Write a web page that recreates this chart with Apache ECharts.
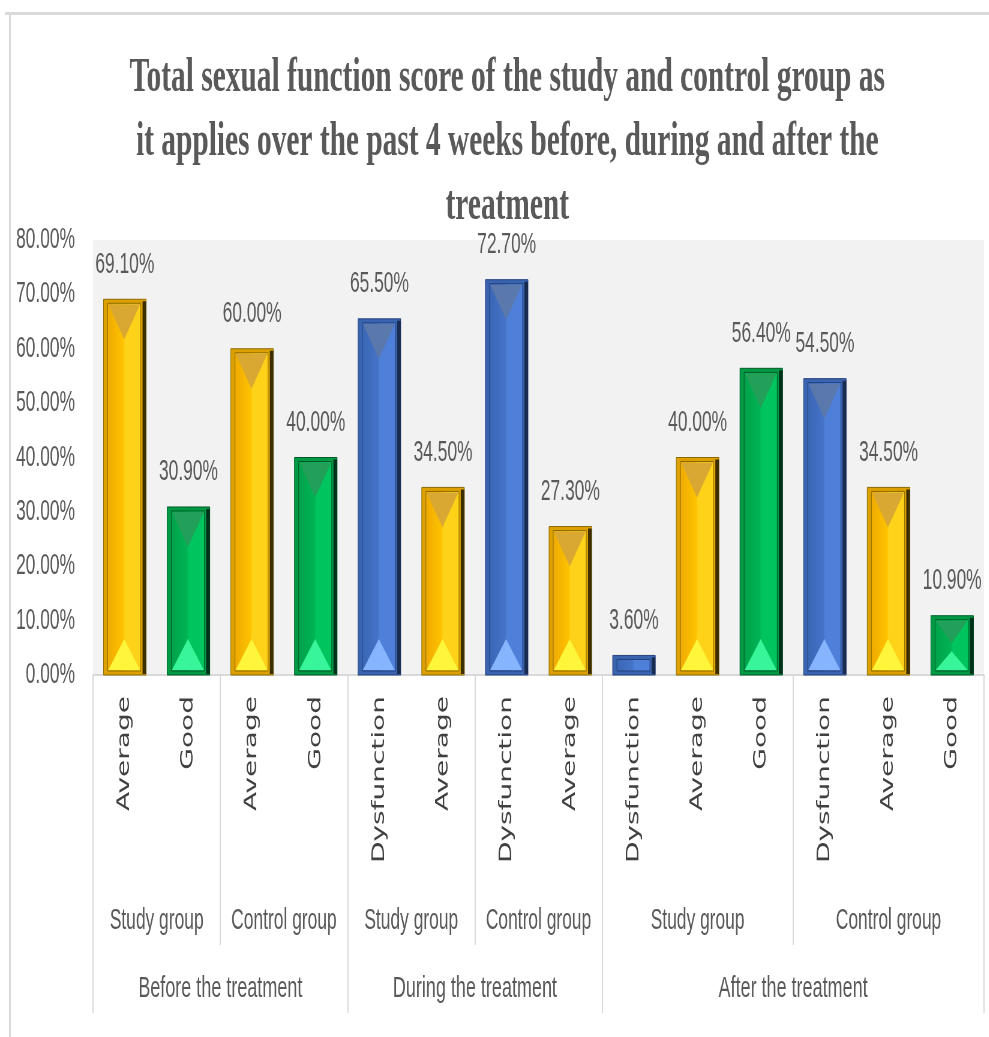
<!doctype html>
<html lang="en">
<head>
<meta charset="UTF-8">
<title>Total sexual function score</title>
<style>
  html, body { margin: 0; padding: 0; background: #fff; overflow: hidden; }
  /* chart is laid out wide and squeezed horizontally, like the reference picture */
  #chart { width: 1648px; height: 1037px; transform: scaleX(0.6); transform-origin: 0 0; }
</style>
</head>
<body>
<div id="chart"></div>
<script src="https://cdn.jsdelivr.net/npm/echarts@6/dist/echarts.min.js"></script>
<script>
// ---- data ----
var categories = ['Average', 'Good', 'Average', 'Good', 'Dysfunction', 'Average', 'Dysfunction', 'Average',
	'Dysfunction', 'Average', 'Good', 'Dysfunction', 'Average', 'Good'];
var values = [69.1, 30.9, 60.0, 40.0, 65.5, 34.5, 72.7, 27.3, 3.6, 40.0, 56.4, 54.5, 34.5, 10.9];
var subGroups = ['Study group', 'Control group', 'Study group', 'Control group', 'Study group', 'Control group'];
var subGroupSizes = [2, 2, 2, 2, 3, 3];
var phases = ['Before the treatment', 'During the treatment', 'After the treatment'];
var phaseSizes = [2, 2, 2]; // sub groups in each phase
var yTicks = [0, 10, 20, 30, 40, 50, 60, 70, 80];

var SANS = '"Liberation Sans Narrow", "Liberation Sans", sans-serif';

// group edges / centres in category units
var subEdges = [0];
subGroupSizes.forEach(function (s) { subEdges.push(subEdges[subEdges.length - 1] + s); });
var subCenters = subGroupSizes.map(function (s, i) { return subEdges[i] + s / 2; });
var phaseEdges = [0], k = 0;
phaseSizes.forEach(function (n) { k += n; phaseEdges.push(subEdges[k]); });
var phaseCenters = phaseSizes.map(function (n, i) { return (phaseEdges[i] + phaseEdges[i + 1]) / 2; });
var innerEdges = subEdges.filter(function (e) { return phaseEdges.indexOf(e) < 0; });
var nCat = categories.length;

// bevel colours per rating
var palettes = {
	Average: { frame: '#DCA000', outline: '#8C6A00', shadow: '#3B2E00', inA: '#EFAA00', inB: '#FFC300', inC: '#FFD21A', top: '#D8A832', bottom: '#FFF53A' },
	Good: { frame: '#009A45', outline: '#005A28', shadow: '#00301A', inA: '#00A24A', inB: '#00B455', inC: '#00C45E', top: '#22A05A', bottom: '#38F59A' },
	Dysfunction: { frame: '#3A64B0', outline: '#23407A', shadow: '#1A2B50', inA: '#3B66B5', inB: '#4573C8', inC: '#4E80DA', top: '#5A78AC', bottom: '#86B4FF' }
};

function renderBar(params, api) {
	var i = api.value(0), v = api.value(1);
	var top = api.coord([i, v]);
	var base = api.coord([i, 0]);
	var bw = api.size([1, 0])[0] * 0.67;
	var xc = top[0], x0 = xc - bw / 2, x1 = xc + bw / 2, y0 = top[1], y1 = base[1];
	var h = y1 - y0;
	var p = palettes[categories[i]];
	var inX = 7, inY = 4;
	var ix0 = x0 + inX, ix1 = x1 - inX - 2, iy0 = y0 + inY, iy1 = y1 - inY;
	var kids = [
		{ type: 'rect', shape: { x: x0, y: y0, width: bw, height: h }, style: { fill: p.frame, stroke: p.outline, lineWidth: 1 } },
		{ type: 'rect', shape: { x: x1 - 6, y: y0 + 2, width: 6, height: Math.max(h - 3, 0) }, style: { fill: p.shadow } }
	];
	if (h > 2 * inY + 2) {
		kids.push({
			type: 'rect', shape: { x: ix0, y: iy0, width: ix1 - ix0, height: iy1 - iy0 },
			style: {
				fill: new echarts.graphic.LinearGradient(0, 0, 1, 0, [
					{ offset: 0, color: p.inA }, { offset: 0.48, color: p.inB },
					{ offset: 0.52, color: p.inC }, { offset: 1, color: p.inC }
				]),
				stroke: p.outline, lineWidth: 1
			}
		});
		var tri = Math.min(36, (iy1 - iy0) / 2 - 2);
		if (tri > 8) {
			kids.push({ type: 'polygon', shape: { points: [[ix0 + 1, iy0 + 1], [ix1 - 1, iy0 + 1], [(ix0 + ix1) / 2, iy0 + tri]] }, style: { fill: p.top } });
			kids.push({ type: 'polygon', shape: { points: [[ix0 + 1, iy1 - 1], [ix1 - 1, iy1 - 1], [(ix0 + ix1) / 2, iy1 - tri + 4]] }, style: { fill: p.bottom } });
		}
	}
	kids.push({
		type: 'text', x: xc, y: y0 - 20,
		style: { text: v.toFixed(2) + '%', fill: '#595959', fontFamily: SANS, fontSize: 29, align: 'center', verticalAlign: 'bottom' }
	});
	return { type: 'group', children: kids };
}

var chart = echarts.init(document.getElementById('chart'));

var option = {
	backgroundColor: '#fff',
	animation: false,
	title: {
		text: 'Total sexual function score of the study and control group as\nit applies over the past 4 weeks before, during and after the\ntreatment',
		left: '51%',
		textAlign: 'center',
		top: 41,
		textStyle: { fontFamily: 'Liberation Serif', fontWeight: 'bold', fontSize: 49, lineHeight: 64, color: '#595959' }
	},
	graphic: [
		{ type: 'rect', shape: { x: 8, y: 12, width: 1648, height: 3 }, style: { fill: '#d9d9d9' } },
		{ type: 'rect', shape: { x: 15, y: 12, width: 3, height: 1030 }, style: { fill: '#d9d9d9' } }
	],
	grid: { left: 155, right: 8, top: 240, bottom: 362, show: true, backgroundColor: '#f2f2f2', borderWidth: 0, outerBoundsMode: 'none' },
	xAxis: [
		{
			type: 'category', data: categories, position: 'bottom',
			axisLine: { show: true, lineStyle: { color: '#d9d9d9', width: 2 } },
			axisTick: { show: false },
			axisLabel: { interval: 0, rotate: 90, margin: 21, color: '#404040', fontFamily: 'DejaVu Sans', fontSize: 28 }
		},
		{
			type: 'value', min: 0, max: nCat, position: 'bottom',
			axisLine: { show: false }, splitLine: { show: false },
			axisTick: { show: true, customValues: innerEdges, length: 270, lineStyle: { color: '#d9d9d9', width: 2 } },
			axisLabel: {
				customValues: subCenters, margin: 231, color: '#595959', fontFamily: SANS, fontSize: 29,
				formatter: function (v) { return subGroups[subCenters.indexOf(v)]; }
			}
		},
		{
			type: 'value', min: 0, max: nCat, position: 'bottom',
			axisLine: { show: false }, splitLine: { show: false },
			axisTick: { show: true, customValues: phaseEdges, length: 338, lineStyle: { color: '#d9d9d9', width: 2 } },
			axisLabel: {
				customValues: phaseCenters, margin: 299, color: '#595959', fontFamily: SANS, fontSize: 30,
				formatter: function (v) { return phases[phaseCenters.indexOf(v)]; }
			}
		}
	],
	yAxis: {
		type: 'value', min: yTicks[0], max: yTicks[yTicks.length - 1], interval: yTicks[1] - yTicks[0],
		axisLine: { show: false }, axisTick: { show: false }, splitLine: { show: false },
		axisLabel: { margin: 30, color: '#595959', fontFamily: SANS, fontSize: 29, formatter: function (v) { return v.toFixed(2) + '%'; } }
	},
	series: [{
		type: 'custom',
		xAxisIndex: 0, yAxisIndex: 0,
		renderItem: renderBar,
		encode: { x: 0, y: 1 },
		data: values.map(function (v, i) { return [i, v]; }),
		z: 3
	}]
};

chart.setOption(option);
</script>
</body>
</html>
